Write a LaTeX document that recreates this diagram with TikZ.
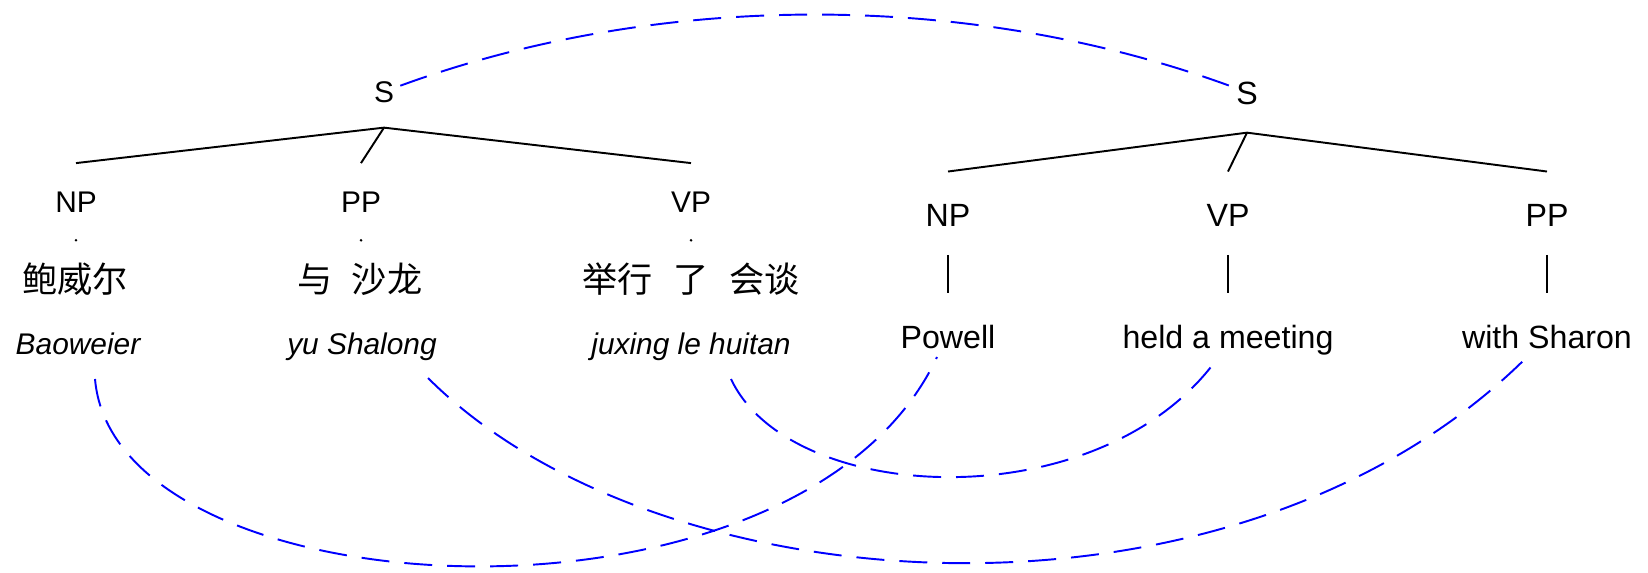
\documentclass[tikz,border=0pt]{standalone}
\usepackage{fontspec}
\setmainfont{Liberation Sans}
\newfontfamily\cjk{Noto Sans CJK SC}
\usetikzlibrary{calc}

\begin{document}
\begin{tikzpicture}[x=0.02cm,y=-0.02cm,
  rotulo/.style={inner sep=0pt,anchor=base,font=\fontsize{17}{20}\selectfont},
  rotulog/.style={inner sep=0pt,anchor=base,font=\fontsize{18.3}{22}\selectfont},
  hanzi/.style={inner sep=0pt,anchor=base,font=\cjk\fontsize{20}{24}\selectfont},
  pinyin/.style={inner sep=0pt,anchor=base,font=\fontsize{17}{20}\selectfont\itshape},
  ramo/.style={line width=1.1pt},
  liga/.style={blue,line width=1.1pt,dash pattern=on 0.56cm off 0.3cm}]
  \useasboundingbox (0,0) rectangle (1648,573);
	% arvore do chines
	\node[rotulo] (sL) at (384,103) {S};
	\node[rotulo] (npL) at (76,213) {NP};
	\node[rotulo] (ppL) at (361,213) {PP};
	\node[rotulo] (vpL) at (691,213) {VP};
	\node[hanzi] (zhNP) at (75,293) {鲍威尔};
	\node[hanzi] (zhPP) at (360,293) {与\hspace{0.38cm}沙龙};
	\node[hanzi] (zhVP) at (691,293) {举行\hspace{0.42cm}了\hspace{0.42cm}会谈};
	\node[pinyin] (pyNP) at (78,355) {Baoweier};
	\node[pinyin] (pyPP) at (362,355) {yu Shalong};
	\node[pinyin] (pyVP) at (691,355) {juxing le huitan};
	\coordinate (topoL) at ($(sL.south)+(0,24)$);
	\foreach \f in {npL,ppL,vpL} {
	  \draw[ramo] (topoL) -- ($(\f.north)+(0,-29)$);
	  \fill ($(\f.south)+(0,27)$) circle (1.4);
	}
	% arvore do ingles
	\node[rotulog] (sR) at (1247,105) {S};
	\node[rotulog] (npR) at (948,227) {NP};
	\node[rotulog] (vpR) at (1228,227) {VP};
	\node[rotulog] (ppR) at (1547,227) {PP};
	\node[rotulog] (enNP) at (948,349) {Powell};
	\node[rotulog] (enVP) at (1228,349) {held a meeting};
	\node[rotulog] (enPP) at (1547,349) {with Sharon};
	\coordinate (topoR) at ($(sR.south)+(0,27)$);
	\foreach \f/\g in {npR/enNP,vpR/enVP,ppR/enPP} {
	  \draw[ramo] (topoR) -- ($(\f.north)+(0,-33)$);
	  \draw[ramo] ($(\f.base)+(0,28)$) -- ($(\g.base)+(0,-56)$);
	}
	% ligacoes
	\draw[liga] ($(sL.east)+(6,-7)$) .. controls +(260,-95) and +(-260,-95) .. ($(sR.west)+(-6,-8)$);
	\draw[liga] ($(pyNP.base)+(17,24)$) .. controls +(20,236) and +(-137,293) .. ($(enNP.base)+(-11,8)$);
	\draw[liga] ($(pyPP.base)+(66,23)$) .. controls +(231,231) and +(-292,292) .. ($(enPP.base)+(-19,7)$);
	\draw[liga] ($(pyVP.base)+(40,24)$) .. controls +(59,126) and +(-119,157) .. ($(enVP.base)+(-14,14)$);
\end{tikzpicture}
\end{document}
